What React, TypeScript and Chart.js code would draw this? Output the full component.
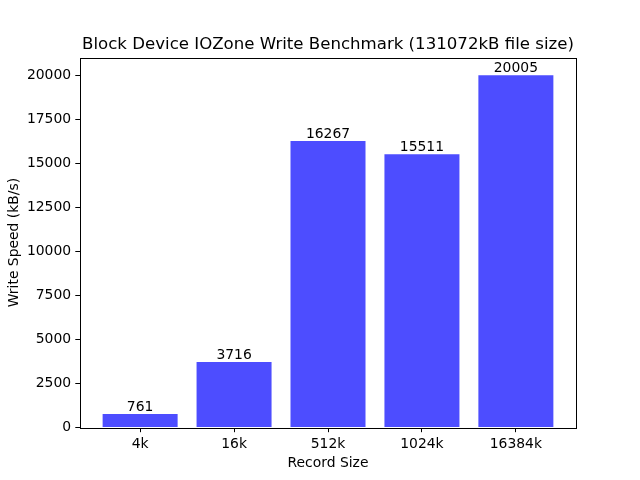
import React, { useEffect, useRef } from "react";
import { Chart, registerables } from "chart.js";

Chart.register(...registerables);

const categories = ["4k", "16k", "512k", "1024k", "16384k"];
const writeSpeeds = [761, 3716, 16267, 15511, 20005];
const yTicks = [0, 2500, 5000, 7500, 10000, 12500, 15000, 17500, 20000];
const titleText = "Block Device IOZone Write Benchmark (131072kB file size)";
const xLabel = "Record Size";
const yLabel = "Write Speed (kB/s)";

const FONT = "DejaVu Sans";
const SMALL = 13.9;

const decorPlugin = {
  id: "decor",
  afterDatasetsDraw(chart: any) {
    const { ctx, chartArea } = chart;
    const { left, right, top, bottom } = chartArea;
    ctx.save();
    // spines
    ctx.strokeStyle = "#000";
    ctx.lineWidth = 1;
    ctx.strokeRect(Math.round(left) + 0.5, Math.round(top) + 0.5, Math.round(right - left), Math.round(bottom - top));
    // bar labels
    ctx.fillStyle = "#000";
    ctx.font = `${SMALL}px "${FONT}"`;
    ctx.textAlign = "center";
    ctx.textBaseline = "alphabetic";
    const meta = chart.getDatasetMeta(0);
    meta.data.forEach((el: any, i: number) => {
      ctx.fillText(String(writeSpeeds[i]), el.x, el.y - 3);
    });
    // title
    ctx.font = `16.6px "${FONT}"`;
    ctx.fillText(titleText, (left + right) / 2, 49);
    // x label
    ctx.font = `${SMALL}px "${FONT}"`;
    ctx.fillText(xLabel, (left + right) / 2, 467);
    // y label
    ctx.translate(18, (top + bottom) / 2);
    ctx.rotate(-Math.PI / 2);
    ctx.fillText(yLabel, 0, 0);
    ctx.restore();
  },
};

export default function App() {
  const canvasRef = useRef<HTMLCanvasElement>(null);
  useEffect(() => {
    if (!canvasRef.current) return;
    const chart = new Chart(canvasRef.current, {
      type: "bar",
      data: {
        datasets: [
          {
            data: writeSpeeds.map((v, i) => ({ x: i, y: v })),
            backgroundColor: "#4d4dff",
            borderWidth: 0,
            inflateAmount: 0,
            barThickness: 75,
          },
        ],
      },
      options: {
        animation: false,
        responsive: false,
        devicePixelRatio: 1,
        layout: { padding: { left: 0, right: 64, top: 57.6, bottom: 0 } },
        plugins: { legend: { display: false }, tooltip: { enabled: false }, title: { display: false } },
        scales: {
          x: {
            type: "linear",
            offset: false,
            min: -0.64,
            max: 4.64,
            afterBuildTicks: (axis: any) => {
              axis.ticks = categories.map((_, i) => ({ value: i }));
            },
            afterFit: (axis: any) => {
              axis.height = 52.5;
            },
            ticks: {
              callback: (v: any) => categories[v] ?? "",
              font: { family: FONT, size: SMALL },
              color: "#000",
              padding: 4.2,
              maxRotation: 0,
              autoSkip: false,
            },
            grid: { display: true, offset: false, drawOnChartArea: false, drawTicks: true, tickLength: 4.7, color: "#000" },
            border: { display: false },
          },
          y: {
            type: "linear",
            min: 0,
            max: 21005.25,
            afterBuildTicks: (axis: any) => {
              axis.ticks = yTicks.map((v) => ({ value: v }));
            },
            afterFit: (axis: any) => {
              axis.width = 80;
            },
            ticks: {
              font: { family: FONT, size: SMALL },
              color: "#000",
              padding: 4.2,
              callback: (v: any) => String(v),
            },
            grid: { display: true, drawOnChartArea: false, drawTicks: true, tickLength: 4.7, color: "#000" },
            border: { display: false },
          },
        },
      },
      plugins: [decorPlugin],
    });
    return () => chart.destroy();
  }, []);
  return (
    <div style={{ position: "absolute", left: 0, top: 0, width: 640, height: 480, background: "#fff" }}>
      <canvas ref={canvasRef} width={640} height={480} />
    </div>
  );
}
